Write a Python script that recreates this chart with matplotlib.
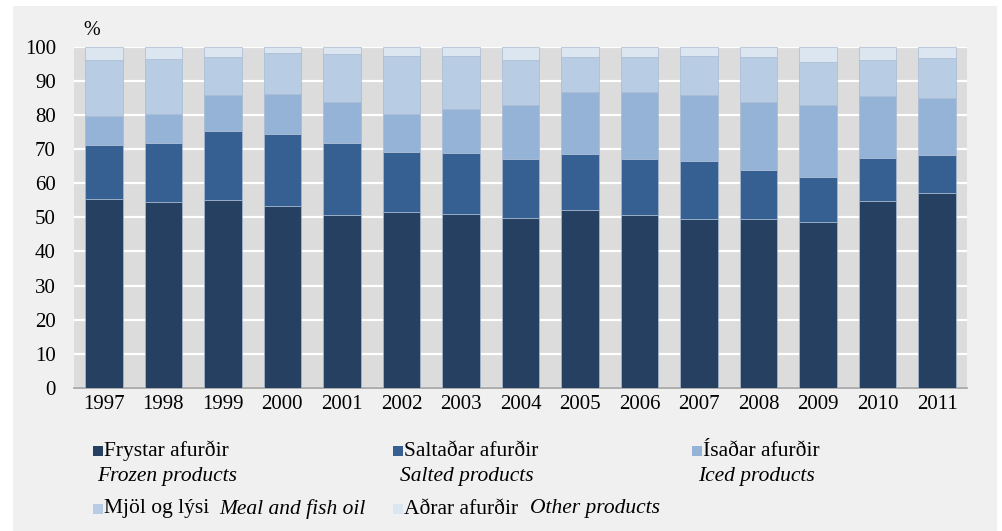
"""
export shares of fish products 1997-2011, stacked bars
"""

import matplotlib

matplotlib.use("Agg")
import matplotlib.pyplot as plt
from matplotlib.patches import Rectangle

years = ["1997", "1998", "1999", "2000", "2001", "2002", "2003", "2004",
         "2005", "2006", "2007", "2008", "2009", "2010", "2011"]

frozen = [55.3, 54.5, 55.0, 53.4, 50.6, 51.5, 50.9, 49.9, 52.3, 50.7, 49.4, 49.6, 48.5, 54.9, 57.0]
salted = [16.0, 17.3, 20.2, 20.9, 21.2, 17.7, 17.9, 17.1, 16.4, 16.5, 17.2, 14.4, 13.4, 12.5, 11.3]
iced = [8.3, 8.6, 10.7, 11.9, 12.1, 11.2, 13.0, 16.0, 18.1, 19.6, 19.3, 19.9, 21.0, 18.2, 16.7]
meal = [16.4, 16.1, 11.1, 11.9, 13.9, 17.0, 15.6, 13.0, 10.3, 10.3, 11.5, 13.2, 12.7, 10.6, 11.7]
other = [4.0, 3.5, 3.0, 1.9, 2.2, 2.6, 2.6, 4.0, 2.9, 2.9, 2.6, 2.9, 4.4, 3.8, 3.3]

series = [frozen, salted, iced, meal, other]
colors = ["#264061", "#366092", "#95B3D7", "#B8CCE4", "#DCE6F1"]
names_is = ["Frystar afurðir", "Saltaðar afurðir", "Ísaðar afurðir",
            "Mjöl og lýsi", "Aðrar afurðir"]
names_en = ["Frozen products", "Salted products", "Iced products",
            "Meal and fish oil", "Other products"]

plt.rcParams["font.family"] = ["Liberation Serif", "DejaVu Serif"]

W, H = 1002, 531
fig = plt.figure(figsize=(W / 100, H / 100), dpi=100)
fig.patch.set_facecolor("white")

# grey panel behind everything
fig.patches.append(Rectangle((13 / W, 0), 984 / W, 1 - 6 / H,
                             transform=fig.transFigure, facecolor="#F0F0F0",
                             edgecolor="none", zorder=-10))

ax = fig.add_axes([74 / W, 1 - 388 / H, 893 / W, (388 - 46.7) / H])
ax.set_facecolor("#DCDCDC")

x = list(range(len(years)))
bottom = [0.0] * len(years)
for vals, col in zip(series, colors):
    ax.bar(x, vals, width=0.63, bottom=bottom, color=col,
           edgecolor="#A9BBD2", linewidth=0.5, zorder=3)
    bottom = [b + v for b, v in zip(bottom, vals)]

ax.set_xlim(-0.5, len(years) - 0.5)
ax.set_ylim(0, 100)
ax.set_yticks(range(0, 101, 10))
ax.set_xticks(x)
ax.set_xticklabels(years)
ax.grid(axis="y", color="white", linewidth=1.6, zorder=1)
ax.set_axisbelow(True)
ax.tick_params(axis="both", length=0, labelsize=15, colors="black")
ax.tick_params(axis="y", pad=13)
ax.tick_params(axis="x", pad=5)
for s in ["top", "right", "left"]:
    ax.spines[s].set_visible(False)
ax.spines["bottom"].set_color("#A0A0A0")
ax.spines["bottom"].set_linewidth(1.2)

fig.text(83 / W, 1 - 31 / H, "%", fontsize=14.5, va="center", ha="left")

# legend drawn by hand, two language lines per entry
sq = 10
rows = [(0, 93, 451), (1, 393, 451), (2, 692, 451), (3, 93, 509), (4, 393, 509)]
for i, px, py in rows:
    fig.patches.append(Rectangle((px / W, 1 - (py + sq / 2) / H), sq / W, sq / H,
                                 transform=fig.transFigure, facecolor=colors[i],
                                 edgecolor="none"))
    fig.text((px + 11) / W, 1 - py / H, names_is[i], fontsize=15.5,
             va="center", ha="left")

italic_pos = [(97, 477), (400, 477), (698, 477), (219, 509), (530, 509)]
for i, (px, py) in enumerate(italic_pos):
    fig.text(px / W, 1 - py / H, names_en[i], fontsize=15.5, style="italic",
             va="center", ha="left")

fig.savefig("out.png", dpi=100)
